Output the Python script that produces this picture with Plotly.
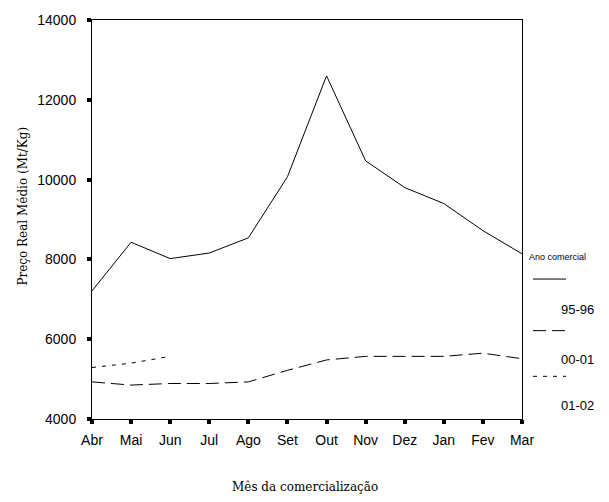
import plotly.graph_objects as go

months = ["Abr", "Mai", "Jun", "Jul", "Ago", "Set", "Out", "Nov", "Dez", "Jan", "Fev", "Mar"]
s9596 = [7210, 8430, 8020, 8160, 8540, 10070, 12600, 10470, 9800, 9400, 8720, 8140]
s0001 = [4930, 4850, 4890, 4890, 4930, 5220, 5480, 5570, 5570, 5570, 5650, 5510]
s0102 = [5290, 5400, 5570]
series_names = ["95-96", "00-01", "01-02"]
yticks = [4000, 6000, 8000, 10000, 12000, 14000]
ytick_labels = [str(v) for v in yticks]

W, H = 609, 502
L, R, T, B = 92, 87, 17, 83
pw, ph = W - L - R, H - T - B

def px(x):
    return (x - L) / pw

def py(y):
    return (H - B - y) / ph

fig = go.Figure()
fig.add_trace(go.Scatter(x=months, y=s9596, mode="lines", name=series_names[0],
                         line=dict(color="black", width=1)))
fig.add_trace(go.Scatter(x=months, y=s0001, mode="lines", name=series_names[1],
                         line=dict(color="black", width=1, dash="13px,6px")))
fig.add_trace(go.Scatter(x=months[:len(s0102)], y=s0102, mode="lines", name=series_names[2],
                         line=dict(color="black", width=1, dash="4px,6px")))

# legend drawn manually (symbol above label)
leg_y = [278, 330, 376]
leg_lab_y = [309, 359, 405]
dashes = ["solid", "13px,6px", "4px,6px"]
shapes = []
annotations = []
for i, name in enumerate(series_names):
    shapes.append(dict(type="line", xref="paper", yref="paper",
                       x0=px(533), x1=px(566), y0=py(leg_y[i]), y1=py(leg_y[i]),
                       line=dict(color="black", width=1, dash=dashes[i])))
    annotations.append(dict(text=name, xref="paper", yref="paper",
                            x=px(577), y=py(leg_lab_y[i]), showarrow=False,
                            xanchor="center", yanchor="middle",
                            font=dict(family="Liberation Sans", size=13, color="black")))
annotations.append(dict(text="Ano comercial", xref="paper", yref="paper",
                        x=px(527), y=py(256), showarrow=False,
                        xanchor="left", yanchor="middle",
                        font=dict(family="Liberation Sans", size=9, color="black")))
annotations.append(dict(text="Mês da comercialização", xref="paper", yref="paper",
                        x=px(305), y=py(488), showarrow=False,
                        xanchor="center", yanchor="middle",
                        font=dict(family="DejaVu Serif", size=12, color="black")))
annotations.append(dict(text="Preço Real Médio (Mt/Kg)", xref="paper", yref="paper",
                        x=px(23), y=py(205), showarrow=False, textangle=-90,
                        xanchor="center", yanchor="middle",
                        font=dict(family="DejaVu Serif", size=12, color="black")))

fig.update_layout(
    width=W, height=H,
    margin=dict(l=L, r=R, t=T, b=B),
    paper_bgcolor="white", plot_bgcolor="white",
    showlegend=False,
    shapes=shapes, annotations=annotations,
    font=dict(family="Liberation Sans", size=13, color="black"),
)
fig.update_xaxes(type="category", range=[0, len(months) - 1], showgrid=False, zeroline=False,
                 showline=True, linecolor="black", linewidth=1, mirror=True,
                 ticks="outside", ticklen=4, tickwidth=4, tickcolor="black",
                 tickfont=dict(family="Liberation Sans", size=14), ticklabelstandoff=4)
fig.update_yaxes(range=[4000, 14000], tickvals=yticks, ticktext=ytick_labels,
                 showgrid=False, zeroline=False,
                 showline=True, linecolor="black", linewidth=1, mirror=True,
                 ticks="outside", ticklen=4, tickwidth=4, tickcolor="black",
                 tickfont=dict(family="Liberation Sans", size=14), ticklabelstandoff=8)

fig.write_html("out.html", config={"displayModeBar": False},
               post_script="document.body.style.margin='0px';")
